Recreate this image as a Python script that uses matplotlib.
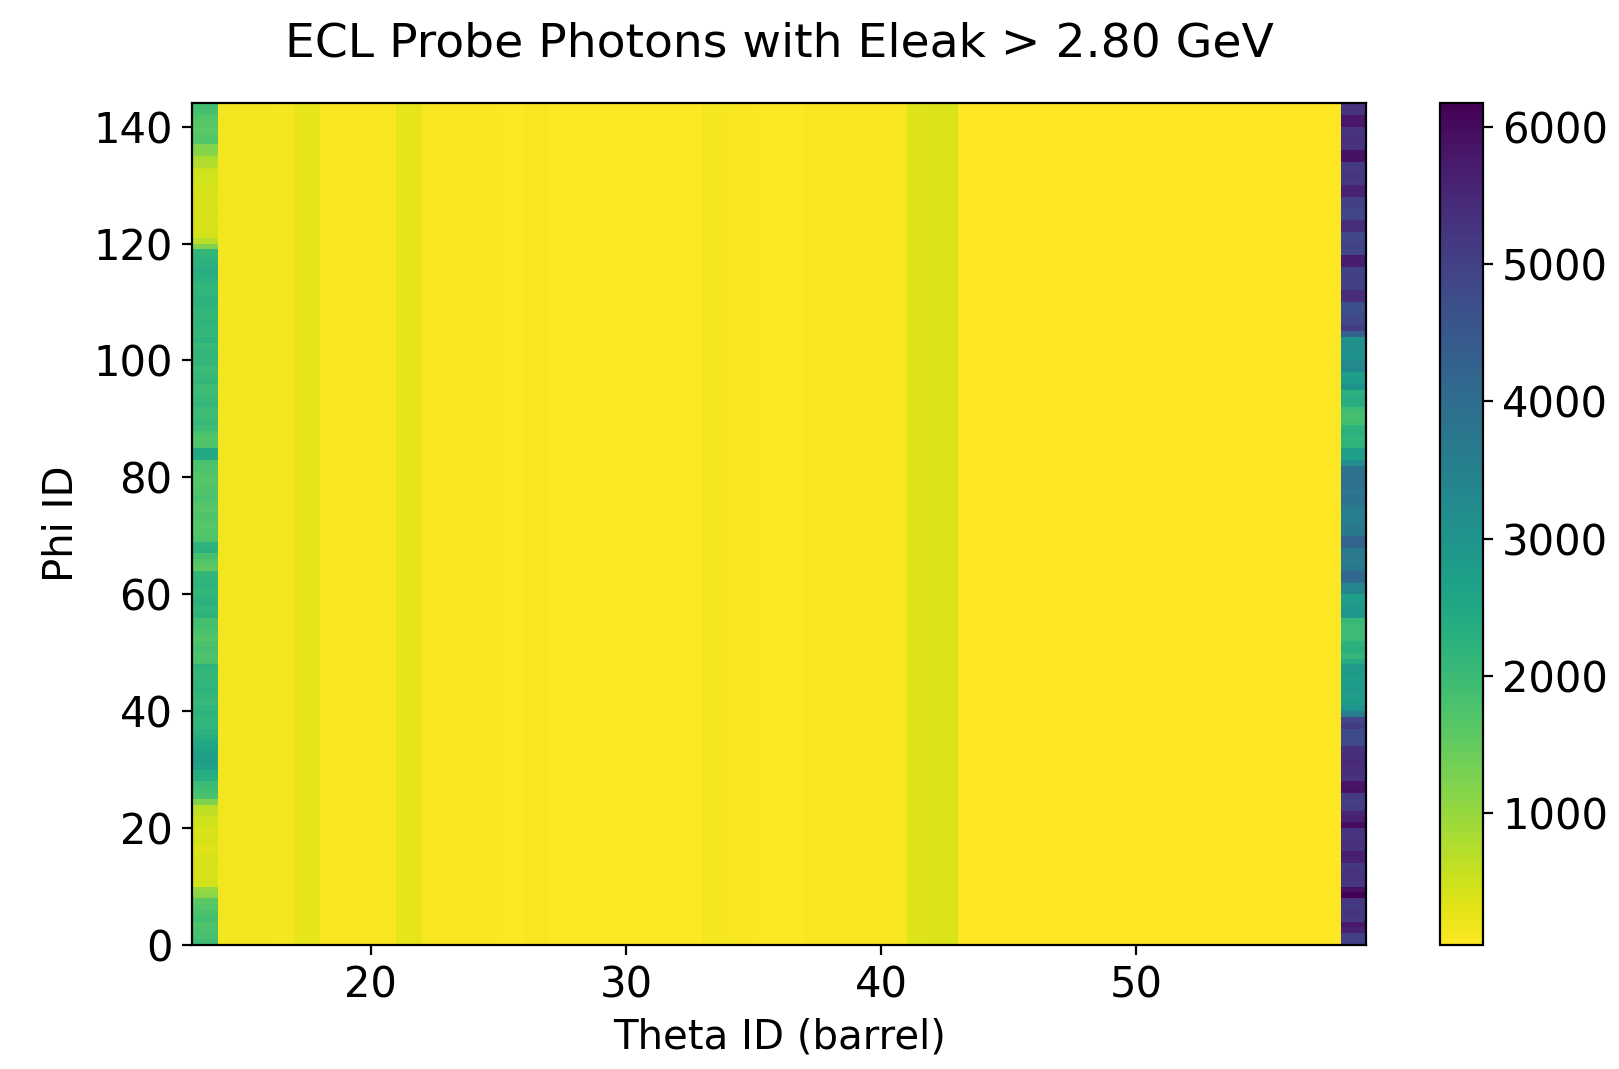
import numpy as np
import matplotlib
matplotlib.use("Agg")
import matplotlib.pyplot as plt

# bin edges of the histogram
theta_edges = np.arange(13, 60)   # theta ID 13..58 (barrel)
phi_edges = np.arange(0, 145)     # phi ID 0..143

# theta ID 13 column, phi 0..143
left_col = [
    1950, 1850, 1800, 1750, 1900, 1800, 1700, 1600,
    1100, 1000,
    450, 420, 380, 400, 420, 380, 350, 400, 420, 380, 450, 500, 600, 650,
    1200,
    1800, 1900, 2000,
    2300, 2400,
    2650, 2750, 2700, 2600, 2500,
    2300, 2250,
    2150, 2100, 2200, 2150, 2050, 2100, 2200, 2150, 2100,
    2100, 2200,
    1800, 1750, 1850, 1800, 1700, 1800, 1900, 1850,
    2200, 2150, 2250, 2200, 2100, 2200, 2150, 2100,
    1550, 1700, 1850, 2250, 2200,
    1750, 1700, 1650, 1700, 1750, 1650, 1700, 1800, 1750, 1700, 1650, 1700, 1750, 1800,
    2450, 2500,
    1750, 1700, 1800,
    2000, 2050, 1950, 2000, 2100, 2050, 2000, 1950, 2100, 2050, 2000, 2100,
    2100, 2150, 2050, 2200, 2100, 2150, 2200, 2100,
    2150, 2200, 2250, 2150, 2100, 2200, 2300, 2350, 2250, 2200, 2100,
    1200,
    700,
    450, 420, 400, 380, 400, 420, 380, 400, 430, 450, 470, 500,
    750, 800,
    1150, 1200,
    1700, 1650, 1600, 1650, 1700,
    1850, 1900,
]

# theta ID 58 column, phi 0..143
right_col = [
    5000, 5050, 5600, 5800,
    5200, 5250, 5150, 5200,
    6170, 5900,
    5200, 5250, 5300, 5200,
    5600, 5650,
    5300, 5350, 5250, 5300,
    6000,
    5600, 5550,
    5100, 5050, 5100,
    5900, 5850,
    5300, 5350,
    5400, 5450, 5400, 5350,
    4800, 4850, 4800,
    5100, 4900, 3600, 3000,
    2800, 2750, 2850, 2800, 2750, 2800, 2850,
    2400, 2100,
    2300, 2250,
    2000, 1950, 2000, 2050,
    2900, 2950,
    2800, 2750,
    3400, 3350,
    4100, 4150,
    3700, 3650, 3750, 3700,
    4200, 4250,
    3700, 3750, 3650,
    3600, 3650,
    3800, 3850, 3750,
    3900, 3950, 3900, 3850,
    3200,
    2700, 2750,
    2200, 2150, 2250, 2200,
    1900, 1850, 1950,
    2300, 2350, 2250,
    3000,
    2800, 2750,
    3300, 3250,
    3100, 3050, 3150, 3100,
    4300, 5100,
    4900, 4850,
    4700, 4700,
    5400, 5400,
    5000, 5050, 5000, 4950,
    5700, 5700,
    4900, 4950, 4900, 4850,
    5400, 5400,
    4900, 4900,
    5000, 5000,
    5600, 5600,
    5200, 5250, 5200, 5150,
    5900, 5900,
    5300, 5350, 5300, 5250,
    5800, 5800,
    5300, 5300,
]

# theta ID 14..57, nearly flat in phi
inner_cols = [
    150, 140, 130, 260, 110, 100, 100, 270, 100, 90,
    90, 80, 90, 80, 80, 80, 80, 80, 80, 130,
    90, 80, 80, 90, 100, 90, 90, 360, 380, 40,
    40, 40, 40, 40, 40, 40, 40, 40, 40, 40,
    40, 40, 40, 40,
]

counts = np.empty((len(phi_edges) - 1, len(theta_edges) - 1))
counts[:, 0] = left_col
counts[:, 1:-1] = np.array(inner_cols)[None, :]
counts[:, -1] = right_col

fig = plt.figure(figsize=(8.095, 5.345), dpi=200)
ax = fig.add_axes([0.1186, 0.116, 0.7252, 0.7874])
cax = fig.add_axes([0.8897, 0.116, 0.0261, 0.7874])

mesh = ax.pcolormesh(theta_edges, phi_edges, counts, cmap="viridis_r")
cb = fig.colorbar(mesh, cax=cax)
cb.set_ticks([1000, 2000, 3000, 4000, 5000, 6000])
cb.ax.tick_params(labelsize=15)

ax.set_xlim(13, 59)
ax.set_ylim(0, 144)
ax.set_xticks([20, 30, 40, 50])
ax.set_yticks([0, 20, 40, 60, 80, 100, 120, 140])
ax.tick_params(labelsize=15)
ax.set_xlabel("Theta ID (barrel)", fontsize=14.5)
ax.set_ylabel("Phi ID", fontsize=14.5)
ax.set_title("ECL Probe Photons with Eleak > 2.80 GeV", fontsize=17, pad=17)

fig.savefig("out.png", dpi=200)
